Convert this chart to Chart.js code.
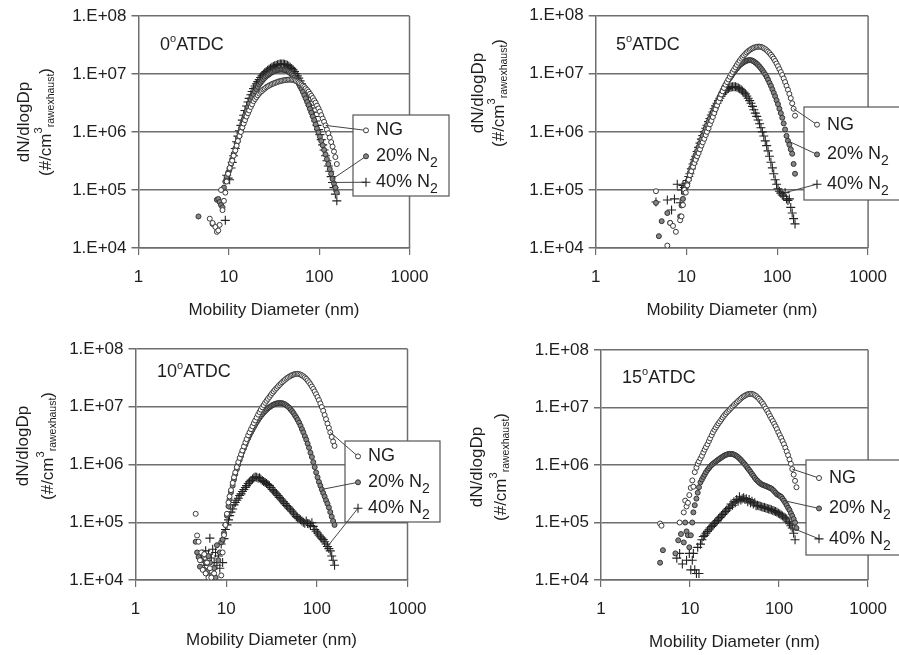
<!DOCTYPE html>
<html>
<head>
<meta charset="utf-8">
<script src="https://cdn.jsdelivr.net/npm/chart.js@4.4.0/dist/chart.umd.min.js"></script>
<style>
  html, body { margin: 0; padding: 0; background: #fff; }
  #wrap { position: relative; width: 899px; height: 655px; overflow: hidden; }
  .panel { position: absolute; width: 450px; }
</style>
</head>
<body>
<div id="wrap">
  <div class="panel" style="left:0;top:0;height:327px"><canvas id="p0"></canvas></div>
  <div class="panel" style="left:449px;top:0;height:327px"><canvas id="p5"></canvas></div>
  <div class="panel" style="left:0;top:327px;height:328px"><canvas id="p10"></canvas></div>
  <div class="panel" style="left:449px;top:327px;height:328px"><canvas id="p15"></canvas></div>
</div>
<script>
// SMPS channel midpoints, nm (64 channels per decade, same for every scan)
const diameters = [
  4.61, 4.78, 4.96, 5.14, 5.33, 5.52, 5.73, 5.94, 6.15, 6.38,
  6.61, 6.85, 7.10, 7.37, 7.64, 7.91, 8.20, 8.51, 8.82, 9.14,
  9.47, 9.82, 10.2, 10.6, 10.9, 11.3, 11.8, 12.2, 12.6, 13.1,
  13.6, 14.1, 14.6, 15.1, 15.7, 16.3, 16.8, 17.5, 18.1, 18.8,
  19.5, 20.2, 20.9, 21.7, 22.5, 23.3, 24.1, 25.0, 25.9, 26.9,
  27.9, 28.9, 30.0, 31.1, 32.2, 33.4, 34.6, 35.9, 37.2, 38.5,
  40.0, 41.4, 42.9, 44.5, 46.1, 47.8, 49.6, 51.4, 53.3, 55.2,
  57.3, 59.4, 61.5, 63.8, 66.1, 68.5, 71.0, 73.7, 76.4, 79.1,
  82.0, 85.1, 88.2, 91.4, 94.7, 98.2, 101.8, 105.5, 109.4, 113.4,
  117.6, 121.9, 126.3, 131.0, 135.8, 140.7, 145.9, 151.2, 156.8
];

// 0 deg ATDC
const ng0 = [
  null, null, null, null, null, null, null, null, 3.2e4, null,
  2.7e4, null, 2.3e4, 1.9e4, 2.0e4, 2.5e4, 1.0e5, 4.5e4, 6.5e4, 9.0e4,
  1.4e5, 1.9e5, 2.4e5, 2.9e5, 3.2e5, 3.9e5, 4.8e5, 5.8e5, 7.0e5, 8.5e5,
  1.0e6, 1.2e6, 1.4e6, 1.6e6, 1.85e6, 2.1e6, 2.35e6, 2.7e6, 3.0e6, 3.4e6,
  3.7e6, 4.0e6, 4.3e6, 4.6e6, 4.9e6, 5.1e6, 5.4e6, 5.6e6, 5.9e6, 6.1e6,
  6.3e6, 6.5e6, 6.7e6, 6.85e6, 7.0e6, 7.15e6, 7.3e6, 7.45e6, 7.55e6, 7.65e6,
  7.75e6, 7.85e6, 7.9e6, 7.95e6, 8.0e6, 8.0e6, 7.95e6, 7.85e6, 7.75e6, 7.6e6,
  7.4e6, 7.15e6, 6.9e6, 6.6e6, 6.3e6, 6.0e6, 5.65e6, 5.3e6, 4.95e6, 4.55e6,
  4.2e6, 3.85e6, 3.5e6, 3.2e6, 2.85e6, 2.55e6, 2.25e6, 1.95e6, 1.7e6, 1.5e6,
  1.3e6, 1.1e6, 9.5e5, 8.0e5, 6.7e5, 5.6e5, 4.6e5, 3.7e5, 2.8e5
];
const n20_0 = [
  3.5e4, null, null, null, null, null, null, null, null, null,
  2.6e4, null, null, 6.8e4, 7.0e4, 6.2e4, 5.5e4, 5.0e4, 1.1e5, 1.4e5,
  1.7e5, 2.0e5, 2.3e5, 2.8e5, 3.4e5, 4.2e5, 5.2e5, 6.4e5, 7.8e5, 9.5e5,
  1.15e6, 1.4e6, 1.65e6, 1.95e6, 2.3e6, 2.7e6, 3.1e6, 3.6e6, 4.0e6, 4.5e6,
  5.0e6, 5.5e6, 6.0e6, 6.6e6, 7.1e6, 7.6e6, 8.1e6, 8.6e6, 9.1e6, 9.5e6,
  9.9e6, 1.03e7, 1.07e7, 1.1e7, 1.13e7, 1.15e7, 1.17e7, 1.18e7, 1.19e7, 1.19e7,
  1.18e7, 1.17e7, 1.15e7, 1.12e7, 1.08e7, 1.04e7, 9.9e6, 9.3e6, 8.7e6, 8.1e6,
  7.4e6, 6.8e6, 6.1e6, 5.5e6, 4.9e6, 4.3e6, 3.8e6, 3.3e6, 2.9e6, 2.5e6,
  2.15e6, 1.85e6, 1.6e6, 1.35e6, 1.15e6, 9.8e5, 8.3e5, 7.0e5, 5.9e5, 4.9e5,
  4.1e5, 3.4e5, 2.8e5, 2.3e5, 1.9e5, 1.55e5, 1.3e5, 1.1e5, 9.0e4
];
const n40_0 = [
  null, null, null, null, null, null, null, null, null, null,
  null, null, null, null, null, null, null, null, null, 3.0e4,
  1.8e5, 1.6e5, 1.5e5, 2.4e5, 3.0e5, 3.9e5, 5.2e5, 6.8e5, 8.5e5, 1.05e6,
  1.3e6, 1.6e6, 1.95e6, 2.35e6, 2.8e6, 3.3e6, 3.8e6, 4.4e6, 5.0e6, 5.6e6,
  6.2e6, 6.8e6, 7.4e6, 8.0e6, 8.7e6, 9.3e6, 9.9e6, 1.05e7, 1.1e7, 1.16e7,
  1.21e7, 1.26e7, 1.31e7, 1.35e7, 1.39e7, 1.42e7, 1.45e7, 1.47e7, 1.48e7, 1.49e7,
  1.48e7, 1.47e7, 1.44e7, 1.41e7, 1.36e7, 1.31e7, 1.25e7, 1.18e7, 1.1e7, 1.02e7,
  9.3e6, 8.5e6, 7.6e6, 6.8e6, 6.0e6, 5.3e6, 4.6e6, 4.0e6, 3.4e6, 2.9e6,
  2.6e6, 2.2e6, 1.85e6, 1.55e6, 1.3e6, 1.1e6, 9.0e5, 7.4e5, 6.0e5, 4.9e5,
  3.9e5, 3.2e5, 2.6e5, 2.1e5, 1.7e5, 1.35e5, 1.1e5, 8.5e4, 6.5e4
];

// 5 deg ATDC
const ng5 = [
  9.5e4, null, null, null, null, null, null, null, 1.1e4, null,
  2.7e4, null, 2.4e4, null, 1.9e4, null, null, 3.0e4, 3.5e4, 5.5e4,
  1.0e5, 9.0e4, 1.2e5, 1.5e5, 1.8e5, 2.1e5, 2.5e5, 2.9e5, 3.3e5, 3.8e5,
  4.3e5, 5.0e5, 5.8e5, 6.6e5, 7.6e5, 8.8e5, 1.0e6, 1.15e6, 1.35e6, 1.55e6,
  1.8e6, 2.1e6, 2.45e6, 2.85e6, 3.3e6, 3.8e6, 4.4e6, 5.0e6, 5.7e6, 6.5e6,
  7.2e6, 8.0e6, 8.9e6, 9.8e6, 1.08e7, 1.18e7, 1.3e7, 1.42e7, 1.55e7, 1.68e7,
  1.82e7, 1.95e7, 2.07e7, 2.2e7, 2.33e7, 2.45e7, 2.56e7, 2.66e7, 2.74e7, 2.81e7,
  2.87e7, 2.91e7, 2.93e7, 2.93e7, 2.9e7, 2.84e7, 2.76e7, 2.66e7, 2.54e7, 2.41e7,
  2.27e7, 2.12e7, 1.97e7, 1.82e7, 1.66e7, 1.5e7, 1.35e7, 1.2e7, 1.07e7, 9.5e6,
  8.3e6, 7.2e6, 6.2e6, 5.3e6, 4.5e6, 3.8e6, 3.1e6, 2.5e6, 1.9e6
];
const n20_5 = [
  6.0e4, null, 1.6e4, null, 2.9e4, null, null, null, 4.0e4, null,
  2.7e4, null, null, null, null, null, null, 3.5e4, 5.4e4, 7.0e4,
  9.0e4, 1.1e5, 1.3e5, 1.6e5, 2.0e5, 2.4e5, 2.9e5, 3.4e5, 4.0e5, 4.7e5,
  5.5e5, 6.4e5, 7.4e5, 8.6e5, 1.0e6, 1.15e6, 1.3e6, 1.5e6, 1.7e6, 1.95e6,
  2.2e6, 2.5e6, 2.85e6, 3.2e6, 3.6e6, 4.1e6, 4.6e6, 5.2e6, 5.8e6, 6.4e6,
  7.0e6, 7.7e6, 8.4e6, 9.1e6, 9.9e6, 1.07e7, 1.15e7, 1.23e7, 1.32e7, 1.4e7,
  1.47e7, 1.53e7, 1.59e7, 1.64e7, 1.68e7, 1.71e7, 1.72e7, 1.71e7, 1.68e7, 1.63e7,
  1.56e7, 1.49e7, 1.41e7, 1.33e7, 1.24e7, 1.15e7, 1.06e7, 9.7e6, 8.8e6, 7.9e6,
  7.0e6, 6.2e6, 5.4e6, 4.7e6, 4.1e6, 3.5e6, 3.0e6, 2.5e6, 2.1e6, 1.75e6,
  1.4e6, 1.1e6, 8.5e5, 7.0e5, 6.0e5, 5.0e5, 4.2e5, 2.8e5, 1.9e5
];
const n40_5 = [
  6.2e4, null, null, null, null, null, null, null, 6.7e4, null,
  null, 4.5e4, null, 7.0e4, null, 1.25e5, null, 6.0e4, 1.0e5, 1.2e5,
  1.1e5, 1.3e5, 1.45e5, 1.7e5, 1.9e5, 2.3e5, 2.8e5, 3.3e5, 3.8e5, 4.6e5,
  5.4e5, 6.4e5, 7.5e5, 8.6e5, 1.0e6, 1.15e6, 1.3e6, 1.5e6, 1.7e6, 1.95e6,
  2.2e6, 2.5e6, 2.8e6, 3.1e6, 3.45e6, 3.8e6, 4.1e6, 4.45e6, 4.8e6, 5.1e6,
  5.4e6, 5.6e6, 5.8e6, 5.9e6, 6.0e6, 6.0e6, 5.95e6, 5.85e6, 5.7e6, 5.5e6,
  5.3e6, 5.05e6, 4.8e6, 4.5e6, 4.15e6, 3.8e6, 3.45e6, 3.1e6, 2.75e6, 2.4e6,
  2.1e6, 1.85e6, 1.6e6, 1.38e6, 1.18e6, 1.0e6, 8.5e5, 7.0e5, 5.8e5, 4.7e5,
  3.8e5, 3.0e5, 2.4e5, 1.9e5, 1.5e5, 1.25e5, 1.05e5, 9.5e4, 8.8e4, 8.2e4,
  7.8e4, 9.0e4, 7.0e4, 6.6e4, 7.0e4, 5.0e4, 4.0e4, 3.2e4, 2.6e4
];

// 10 deg ATDC
const ng10 = [
  1.4e5, 5.9e4, 4.6e4, 2.2e4, 3.0e4, 1.5e4, 2.8e4, 1.3e4, 2.0e4, 1.1e4,
  1.6e4, 1.1e4, null, 1.3e4, null, null, null, null, 1.2e4, 3.0e4,
  6.0e4, 9.0e4, 1.4e5, 2.2e5, 2.8e5, 3.6e5, 4.8e5, 6.0e5, 7.3e5, 9.0e5,
  1.1e6, 1.3e6, 1.5e6, 1.75e6, 2.05e6, 2.4e6, 2.75e6, 3.2e6, 3.6e6, 4.1e6,
  4.6e6, 5.2e6, 5.8e6, 6.5e6, 7.3e6, 8.1e6, 8.9e6, 9.8e6, 1.07e7, 1.17e7,
  1.27e7, 1.37e7, 1.48e7, 1.6e7, 1.72e7, 1.84e7, 1.97e7, 2.1e7, 2.23e7, 2.37e7,
  2.51e7, 2.65e7, 2.79e7, 2.93e7, 3.07e7, 3.2e7, 3.32e7, 3.43e7, 3.53e7, 3.61e7,
  3.67e7, 3.7e7, 3.7e7, 3.67e7, 3.6e7, 3.5e7, 3.37e7, 3.22e7, 3.05e7, 2.86e7,
  2.66e7, 2.45e7, 2.24e7, 2.04e7, 1.84e7, 1.65e7, 1.47e7, 1.3e7, 1.14e7, 9.9e6,
  8.5e6, 7.2e6, 6.1e6, 5.1e6, 4.3e6, 3.6e6, 3.0e6, 2.5e6, 2.1e6
];
const n20_10 = [
  4.6e4, 3.0e4, 2.5e4, 1.7e4, 2.2e4, 3.0e4, 1.5e4, 2.0e4, 1.4e4, 2.6e4,
  2.0e4, 1.2e4, 1.0e4, 1.6e4, 1.1e4, 4.0e4, 2.2e4, 3.0e4, 4.5e4, 5.0e4,
  6.5e4, 9.0e4, 1.3e5, 1.9e5, 2.5e5, 3.3e5, 4.3e5, 5.5e5, 6.8e5, 8.3e5,
  1.0e6, 1.2e6, 1.4e6, 1.65e6, 1.9e6, 2.2e6, 2.5e6, 2.85e6, 3.2e6, 3.6e6,
  4.0e6, 4.45e6, 4.9e6, 5.4e6, 5.9e6, 6.4e6, 6.9e6, 7.4e6, 7.9e6, 8.4e6,
  8.9e6, 9.4e6, 9.8e6, 1.02e7, 1.06e7, 1.09e7, 1.12e7, 1.14e7, 1.15e7, 1.16e7,
  1.16e7, 1.15e7, 1.13e7, 1.1e7, 1.06e7, 1.01e7, 9.6e6, 9.0e6, 8.4e6, 7.8e6,
  7.1e6, 6.5e6, 5.9e6, 5.3e6, 4.7e6, 4.1e6, 3.6e6, 3.1e6, 2.7e6, 2.3e6,
  1.95e6, 1.6e6, 1.35e6, 1.1e6, 9.0e5, 7.3e5, 6.0e5, 5.0e5, 4.3e5, 3.7e5,
  3.2e5, 2.8e5, 2.4e5, 2.1e5, 1.8e5, 1.5e5, 1.25e5, 1.05e5, 9.0e4
];
const n40_10 = [
  null, null, null, null, 2.5e4, null, 1.8e4, 3.2e4, 2.2e4, 2.8e4,
  5.3e4, 2.4e4, 3.4e4, 2.0e4, 3.0e4, 1.8e4, 2.6e4, 1.6e4, 4.2e4, 2.0e4,
  5.2e4, 7.5e4, 9.0e4, 1.1e5, 1.3e5, 1.5e5, 1.7e5, 2.0e5, 2.2e5, 2.4e5,
  2.6e5, 2.9e5, 3.1e5, 3.4e5, 3.7e5, 4.0e5, 4.3e5, 4.7e5, 5.0e5, 5.3e5,
  5.6e5, 5.9e5, 6.1e5, 6.0e5, 5.8e5, 5.9e5, 5.6e5, 5.3e5, 5.1e5, 4.9e5,
  4.7e5, 4.5e5, 4.3e5, 4.0e5, 3.7e5, 3.5e5, 3.3e5, 3.1e5, 2.9e5, 2.7e5,
  2.55e5, 2.4e5, 2.25e5, 2.1e5, 1.95e5, 1.85e5, 1.75e5, 1.65e5, 1.55e5, 1.45e5,
  1.35e5, 1.25e5, 1.2e5, 1.15e5, 1.1e5, 1.05e5, 1.0e5, 9.6e4, 1.05e5, 9.5e4,
  9.4e4, 8.8e4, 9.8e4, 8.5e4, 7.5e4, 7.0e4, 6.5e4, 6.0e4, 5.6e4, 5.3e4,
  5.0e4, 4.6e4, 4.2e4, 3.8e4, 3.5e4, 3.2e4, 2.6e4, 2.2e4, 1.8e4
];

// 15 deg ATDC
const ng15 = [
  9.6e4, 8.8e4, null, null, null, null, null, null, null, null,
  null, null, null, null, 1.0e5, null, null, 1.5e5, 2.4e5, 1.9e5,
  2.2e5, 3.0e5, 4.0e5, 5.4e5, 4.2e5, 7.5e5, 9.0e5, 1.05e6, 1.15e6, 1.3e6,
  1.45e6, 1.65e6, 1.85e6, 2.05e6, 2.3e6, 2.6e6, 2.9e6, 3.3e6, 3.7e6, 4.1e6,
  4.5e6, 4.9e6, 5.3e6, 5.7e6, 6.2e6, 6.7e6, 7.2e6, 7.7e6, 8.2e6, 8.7e6,
  9.2e6, 9.8e6, 1.04e7, 1.1e7, 1.16e7, 1.22e7, 1.29e7, 1.36e7, 1.43e7, 1.5e7,
  1.56e7, 1.61e7, 1.66e7, 1.7e7, 1.72e7, 1.73e7, 1.72e7, 1.69e7, 1.64e7, 1.58e7,
  1.5e7, 1.42e7, 1.33e7, 1.24e7, 1.15e7, 1.05e7, 9.6e6, 8.7e6, 7.9e6, 7.1e6,
  6.4e6, 5.8e6, 5.2e6, 4.7e6, 4.2e6, 3.7e6, 3.3e6, 2.95e6, 2.6e6, 2.3e6,
  2.0e6, 1.72e6, 1.48e6, 1.25e6, 1.05e6, 8.5e5, 6.8e5, 5.3e5, 4.1e5
];
const n20_15 = [
  2.0e4, null, 3.3e4, null, null, null, null, null, null, null,
  null, 2.9e4, null, 4.9e4, null, 6.3e4, null, 4.5e4, 1.0e5, 7.0e4,
  6.0e4, 3.7e4, 6.0e4, 1.0e5, 1.5e5, 2.0e5, 2.6e5, 3.3e5, 4.1e5, 5.0e5,
  5.6e5, 6.2e5, 6.8e5, 7.5e5, 8.2e5, 8.8e5, 9.4e5, 1.0e6, 1.05e6, 1.1e6,
  1.15e6, 1.2e6, 1.25e6, 1.3e6, 1.35e6, 1.4e6, 1.45e6, 1.49e6, 1.52e6, 1.55e6,
  1.56e6, 1.56e6, 1.55e6, 1.52e6, 1.48e6, 1.43e6, 1.37e6, 1.3e6, 1.23e6, 1.16e6,
  1.09e6, 1.02e6, 9.5e5, 8.8e5, 8.2e5, 7.6e5, 7.0e5, 6.5e5, 6.0e5, 5.6e5,
  5.3e5, 5.0e5, 4.8e5, 4.6e5, 4.5e5, 4.4e5, 4.3e5, 4.2e5, 4.1e5, 4.0e5,
  3.9e5, 3.7e5, 3.5e5, 3.3e5, 3.1e5, 3.0e5, 2.9e5, 2.8e5, 2.6e5, 2.4e5,
  2.2e5, 2.0e5, 1.8e5, 1.65e5, 1.45e5, 1.3e5, 1.15e5, 1.0e5, 8.0e4
];
const n40_15 = [
  null, null, null, null, null, null, null, null, null, null,
  null, null, 2.4e4, null, 2.9e4, null, 1.9e4, null, null, 2.2e4,
  null, 2.9e4, 1.5e4, 2.2e4, 2.9e4, 1.5e4, 1.3e4, 3.7e4, 1.3e4, 4.2e4,
  5.0e4, 5.7e4, 6.0e4, 6.5e4, 7.0e4, 7.5e4, 8.0e4, 8.5e4, 9.0e4, 9.6e4,
  1.02e5, 1.08e5, 1.15e5, 1.22e5, 1.3e5, 1.38e5, 1.46e5, 1.55e5, 1.65e5, 1.75e5,
  1.85e5, 2.1e5, 2.0e5, 2.3e5, 2.2e5, 2.5e5, 2.35e5, 2.8e5, 2.45e5, 2.6e5,
  2.7e5, 2.5e5, 2.6e5, 2.3e5, 2.5e5, 2.2e5, 2.35e5, 2.1e5, 2.2e5, 1.95e5,
  2.0e5, 1.95e5, 1.92e5, 1.88e5, 1.85e5, 1.82e5, 1.78e5, 1.75e5, 1.72e5, 1.7e5,
  1.66e5, 1.62e5, 1.58e5, 1.55e5, 1.5e5, 1.45e5, 1.4e5, 1.35e5, 1.3e5, 1.25e5,
  1.2e5, 1.15e5, 1.05e5, 9.5e4, 8.8e4, 8.0e4, 6.5e4, 5.0e4, null
];

const seriesNames = ['NG', '20% N2', '40% N2'];
const xTicks = [1, 10, 100, 1000];
const yTicks = [1e4, 1e5, 1e6, 1e7, 1e8];

const FONT = '"Liberation Sans", Arial, sans-serif';
const TEXT = '#1e1e1e';
const AXIS = '#6e6e6e';

// marker look for NG, 20% N2, 40% N2
const seriesStyles = [
  { pointStyle: 'circle', radius: 2.5, backgroundColor: '#ffffff', borderColor: '#3a3a3a', borderWidth: 1 },
  { pointStyle: 'circle', radius: 2.5, backgroundColor: '#858585', borderColor: '#333333', borderWidth: 1 },
  { pointStyle: 'cross', radius: 4.5, backgroundColor: '#222222', borderColor: '#222222', borderWidth: 1.1 }
];

// layout of the four panels, in canvas pixels
const panels = [
  { id: 'p0', deg: '0', series: [ng0, n20_0, n40_0], H: 327,
    area: { left: 138.5, right: 409.5, top: 16, bottom: 248 }, titleY: 310,
    tag: { x: 160, y: 45 }, yTitle: { x1: 24, x2: 46, y: 122 },
    legend: { x: 353, y: 115, w: 96, h: 81 }, leaders: [90, 95, 95] },
  { id: 'p5', deg: '5', series: [ng5, n20_5, n40_5], H: 327,
    area: { left: 146.7, right: 420.7, top: 15.7, bottom: 248 }, titleY: 310,
    tag: { x: 167, y: 45 }, yTitle: { x1: 29, x2: 50, y: 93 },
    legend: { x: 355, y: 107, w: 110, h: 93 }, leaders: [97, 93, 91] },
  { id: 'p10', deg: '10', series: [ng10, n20_10, n40_10], H: 328,
    area: { left: 135.5, right: 407.5, top: 22, bottom: 253 }, titleY: 313,
    tag: { x: 157, y: 45 }, yTitle: { x1: 23, x2: 48, y: 119 },
    legend: { x: 345, y: 114, w: 95, h: 81 }, leaders: [95, 89, 93] },
  { id: 'p15', deg: '15', series: [ng15, n20_15, n40_15], H: 328,
    area: { left: 152, right: 425, top: 23, bottom: 253 }, titleY: 315,
    tag: { x: 173, y: 51 }, yTitle: { x1: 28, x2: 52, y: 140 },
    legend: { x: 357, y: 133, w: 110, h: 95 }, leaders: [95, 89, 95] }
];
const panelById = {};
panels.forEach(p => { panelById[p.id] = p; });

// draws a run of text pieces, each with its own size and vertical shift
function drawRuns(ctx, runs, x, y, align) {
  let total = 0;
  runs.forEach(r => { ctx.font = r.size + 'px ' + FONT; r.w = ctx.measureText(r.t).width; total += r.w; });
  let cx = align === 'center' ? x - total / 2 : x;
  ctx.textAlign = 'left';
  runs.forEach(r => {
    ctx.font = r.size + 'px ' + FONT;
    ctx.fillText(r.t, cx, y + (r.dy || 0));
    cx += r.w;
  });
}

const decorPlugin = {
  id: 'decor',
  afterDraw(chart) {
    const p = panelById[chart.canvas.id];
    const ctx = chart.ctx;
    const a = chart.chartArea;
    ctx.save();

    // right edge of the plot frame
    ctx.strokeStyle = AXIS;
    ctx.lineWidth = 1.5;
    ctx.beginPath();
    ctx.moveTo(a.right, a.top);
    ctx.lineTo(a.right, a.bottom);
    ctx.stroke();

    ctx.fillStyle = TEXT;
    ctx.textBaseline = 'middle';

    // y axis title, two rotated lines
    ctx.save();
    ctx.translate(p.yTitle.x1, p.yTitle.y);
    ctx.rotate(-Math.PI / 2);
    drawRuns(ctx, [{ t: 'dN/dlogDp', size: 17 }], 0, 0, 'center');
    ctx.restore();
    ctx.save();
    ctx.translate(p.yTitle.x2, p.yTitle.y);
    ctx.rotate(-Math.PI / 2);
    drawRuns(ctx, [
      { t: '(#/cm', size: 17 },
      { t: '3', size: 11, dy: -7 },
      { t: 'rawexhaust', size: 10.5, dy: 5 },
      { t: ')', size: 17 }
    ], 0, 0, 'center');
    ctx.restore();

    // crank angle tag
    drawRuns(ctx, [
      { t: p.deg, size: 18 },
      { t: 'o', size: 11, dy: -6 },
      { t: 'ATDC', size: 18 }
    ], p.tag.x, p.tag.y, 'left');

    // legend box with leader lines
    const L = p.legend;
    ctx.fillStyle = '#ffffff';
    ctx.fillRect(L.x, L.y, L.w, L.h);
    ctx.strokeStyle = '#555555';
    ctx.lineWidth = 1.2;
    ctx.strokeRect(L.x, L.y, L.w, L.h);

    const rows = [0.19, 0.51, 0.83];
    seriesNames.forEach((name, i) => {
      const my = L.y + L.h * rows[i];
      const mx = L.x + 13;
      const el = chart.getDatasetMeta(i).data[p.leaders[i]];
      ctx.strokeStyle = '#444444';
      ctx.lineWidth = 1;
      ctx.beginPath();
      ctx.moveTo(el.x, el.y);
      ctx.lineTo(mx, my);
      ctx.stroke();

      const st = seriesStyles[i];
      ctx.fillStyle = st.backgroundColor;
      ctx.strokeStyle = st.borderColor;
      ctx.lineWidth = st.borderWidth;
      Chart.helpers.drawPoint(ctx, { pointStyle: st.pointStyle, radius: st.radius, rotation: 0, borderWidth: st.borderWidth }, mx, my);

      ctx.fillStyle = TEXT;
      const sub = name.endsWith('N2');
      const runs = sub
        ? [{ t: name.slice(0, -1), size: 18 }, { t: '2', size: 14, dy: 7 }]
        : [{ t: name, size: 18 }];
      drawRuns(ctx, runs, L.x + 23, my, 'left');
    });

    ctx.restore();
  }
};

function expLabel(v) {
  const e = Math.round(Math.log10(v));
  return '1.E+' + String(e).padStart(2, '0');
}

function buildChart(p) {
  const W = 450;
  const lineH = 17 * 1.2;
  const datasets = p.series.map((vals, i) => {
    const st = seriesStyles[i];
    return {
      label: seriesNames[i],
      data: diameters.map((d, k) => ({ x: d, y: vals[k] })),
      showLine: false,
      pointStyle: st.pointStyle,
      pointRadius: st.radius,
      pointBackgroundColor: st.backgroundColor,
      pointBorderColor: st.borderColor,
      pointBorderWidth: st.borderWidth
    };
  });

  return new Chart(document.getElementById(p.id), {
    type: 'scatter',
    data: { datasets },
    plugins: [decorPlugin],
    options: {
      animation: false,
      responsive: true,
      maintainAspectRatio: false,
      devicePixelRatio: 1,
      layout: { padding: { left: 0, top: p.area.top, right: W - p.area.right, bottom: 0 } },
      plugins: { legend: { display: false }, tooltip: { enabled: false } },
      scales: {
        x: {
          type: 'logarithmic',
          min: 1,
          max: 1000,
          afterBuildTicks: axis => { axis.ticks = xTicks.map(v => ({ value: v })); },
          afterFit: axis => { axis.height = p.H - p.area.bottom; },
          ticks: {
            callback: v => String(v),
            font: { family: FONT, size: 17 },
            color: TEXT,
            padding: 12,
            maxRotation: 0,
            autoSkip: false
          },
          grid: { drawOnChartArea: false, drawTicks: true, tickLength: 7, color: AXIS, lineWidth: 1.2 },
          border: { display: true, color: AXIS, width: 1.5 },
          title: {
            display: true,
            text: 'Mobility Diameter (nm)',
            font: { family: FONT, size: 17 },
            color: TEXT,
            padding: { top: 0, bottom: p.H - p.titleY - lineH / 2 }
          }
        },
        y: {
          type: 'logarithmic',
          min: 1e4,
          max: 1e8,
          afterBuildTicks: axis => { axis.ticks = yTicks.map(v => ({ value: v })); },
          afterFit: axis => { axis.width = p.area.left; },
          ticks: {
            callback: v => expLabel(v),
            font: { family: FONT, size: 17 },
            color: TEXT,
            padding: 5,
            autoSkip: false
          },
          grid: { drawTicks: true, tickLength: 7, color: AXIS, lineWidth: 1.5 },
          border: { display: true, color: AXIS, width: 1.5 }
        }
      }
    }
  });
}

panels.forEach(buildChart);
</script>
</body>
</html>
